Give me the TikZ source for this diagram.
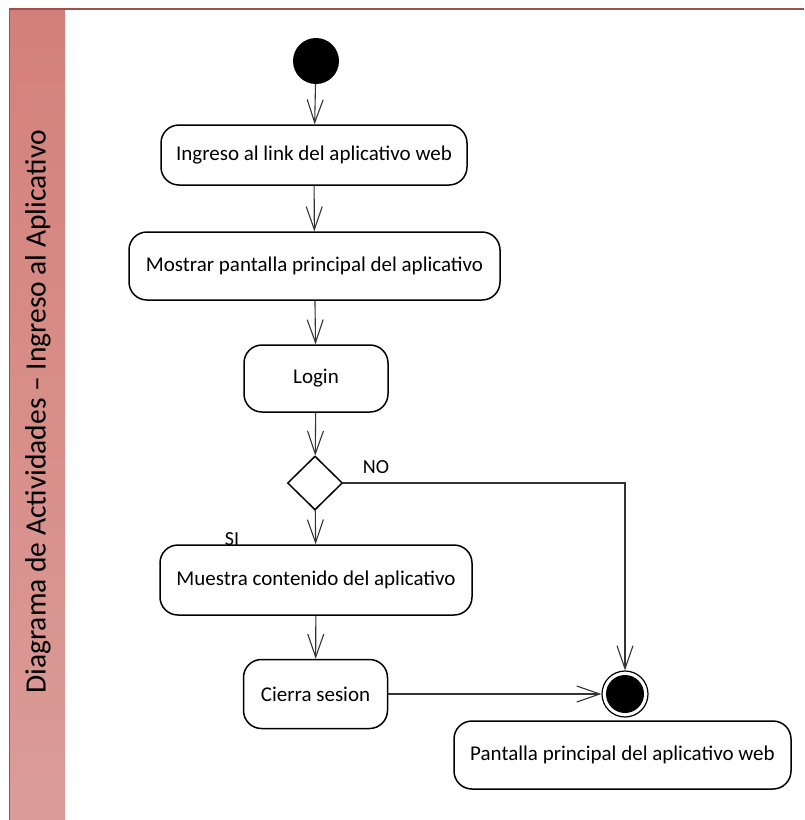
\documentclass[tikz,border=0pt]{standalone}
\usepackage{fontspec}
\setmainfont{Carlito}
\usetikzlibrary{shapes.geometric,arrows.meta}
\begin{document}
\begin{tikzpicture}[x=1pt,y=-1pt,
  act/.style={draw=black,line width=1.5pt,rounded corners=18pt,fill=white,font=\fontsize{21}{25}\selectfont,inner sep=0pt},
  flow/.style={draw=black!80,line width=1.1pt,-{Straight Barb[length=23pt,width=16pt,line width=1.1pt]}},
  lbl/.style={font=\fontsize{20}{24}\selectfont,inner sep=0pt}]
\useasboundingbox (0,0) rectangle (804,820);
\definecolor{bandtop}{HTML}{D4807A}
\definecolor{bandbot}{HTML}{DB9C98}
\definecolor{frameline}{HTML}{A0504C}
% band
\shade[top color=bandtop,bottom color=bandbot] (9,9) rectangle (65,820);
\draw[frameline,line width=1pt] (9,820) -- (9,9);
\draw[frameline,line width=1.8pt] (9,9) -- (804,9);
\node[rotate=90,font=\fontsize{29.5}{33}\selectfont,inner sep=0pt] (title) at (38,412) {Diagrama de Actividades – Ingreso al Aplicativo};
% nodes
\node[circle,fill=black,minimum size=46pt,inner sep=0pt] (start) at (316,61) {};
\node[act,minimum width=306pt,minimum height=60pt] (a1) at (314,155) {Ingreso al link del aplicativo web};
\node[act,minimum width=371pt,minimum height=68pt] (a2) at (314.5,266) {Mostrar pantalla principal del aplicativo};
\node[act,minimum width=144pt,minimum height=67pt] (a3) at (316,378.5) {Login};
\node[diamond,draw=black,line width=1.5pt,fill=white,minimum width=55pt,minimum height=54pt,inner sep=0pt] (d) at (315,483) {};
\node[act,minimum width=312pt,minimum height=70pt] (a5) at (316,580) {Muestra contenido del aplicativo};
\node[act,minimum width=144pt,minimum height=69pt] (a6) at (315.5,694) {Cierra sesion};
\node[circle,draw=black,line width=1.2pt,fill=white,minimum size=46pt,inner sep=0pt] (endo) at (625,694) {};
\node[circle,fill=black,minimum size=38pt,inner sep=0pt] (endi) at (625,694) {};
\node[act,minimum width=337pt,minimum height=68pt] (a7) at (622.5,755) {Pantalla principal del aplicativo web};
\coordinate (corner) at (625,483);
% labels
\node[lbl] (no) at (376,467) {NO};
\node[lbl] (si) at (232,539) {SI};
% connectors
\draw[flow] (start) -- (a1);
\draw[flow] (a1) -- (a2);
\draw[flow] (a2) -- (a3);
\draw[flow] (a3) -- (d);
\draw[flow] (d) -- (a5);
\draw[flow] (a5) -- (a6);
\draw[flow] (a6) -- (endo);
\draw[flow] (d.east) -- (corner) -- (endo.north);
\end{tikzpicture}
\end{document}
